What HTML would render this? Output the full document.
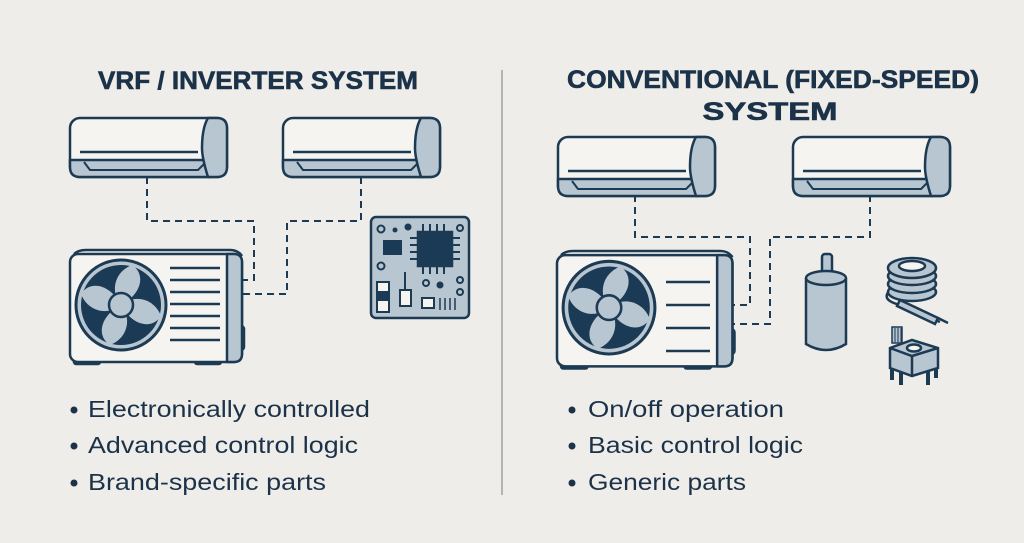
<!DOCTYPE html>
<html><head><meta charset="utf-8"><style>
html,body{margin:0;padding:0;background:#efede9;}
svg{display:block}
text{font-family:"Liberation Sans",sans-serif;fill:#1b3249}
</style></head><body>
<svg width="1024" height="543" viewBox="0 0 1024 543" xmlns="http://www.w3.org/2000/svg">
<defs>
<g id="indoor" stroke="#1d3a53" stroke-width="2.5" stroke-linejoin="round">
  <rect x="0" y="0" width="157" height="59" rx="10" fill="#f5f4f1"/>
  <path d="M0 42 H140 V59 H10 Q0 59 0 49 Z" fill="#b8c6d2"/>
  <path d="M14 44 L20 52 H128 L136 44" fill="#b8c6d2" stroke-width="2"/>
  <path d="M138 0 H147 Q157 0 157 10 V49 Q157 59 147 59 H138 Q132 40 132 30 Q132 10 138 0 Z" fill="#b8c6d2"/>
  <line x1="10" y1="34" x2="128" y2="34"/>
</g>
<path id="blade" d="M51 55 C40 42 44 22 62 15 C76 24 72 44 51 55 Z"/>
<g id="outdoor" stroke="#1d3a53" stroke-width="2.5" stroke-linejoin="round">
  <rect x="4" y="106" width="26" height="8" rx="2" fill="#b8c6d2"/>
  <rect x="125" y="106" width="26" height="8" rx="2" fill="#b8c6d2"/>
  <rect x="160" y="76" width="14" height="24" rx="3" fill="#b8c6d2"/>
  <rect x="0" y="4" width="172" height="108" rx="8" fill="#f5f4f1"/>
  <path d="M157 4 H164 Q172 4 172 12 V104 Q172 112 164 112 H157 Z" fill="#b8c6d2"/>
  <path d="M4 4 Q8 0 16 0 H160 Q168 0 172 6" fill="none"/>
  <circle cx="51" cy="55" r="45" fill="#b8c6d2" stroke-width="3"/>
  <circle cx="51" cy="55" r="40" fill="#1b3a55" stroke="none"/>
  <g fill="#b8c6d2" stroke="none">
    <use href="#blade"/>
    <use href="#blade" transform="rotate(90 51 55)"/>
    <use href="#blade" transform="rotate(180 51 55)"/>
    <use href="#blade" transform="rotate(270 51 55)"/>
  </g>
  <circle cx="51" cy="55" r="12" fill="#b8c6d2"/>
</g>
</defs>

<!-- titles -->
<text x="258" y="89" text-anchor="middle" font-size="25" font-weight="bold" textLength="320" lengthAdjust="spacingAndGlyphs" stroke="#1b3249" stroke-width="0.6">VRF / INVERTER SYSTEM</text>
<text x="773" y="88" text-anchor="middle" font-size="25" font-weight="bold" textLength="412" lengthAdjust="spacingAndGlyphs" stroke="#1b3249" stroke-width="0.6">CONVENTIONAL (FIXED-SPEED)</text>
<text x="770" y="120" text-anchor="middle" font-size="25" font-weight="bold" textLength="135" lengthAdjust="spacingAndGlyphs" stroke="#1b3249" stroke-width="0.6">SYSTEM</text>

<line x1="502" y1="70" x2="502" y2="495" stroke="#8a8f95" stroke-width="1.2"/>

<g fill="none" stroke="#1d3a53" stroke-width="2" stroke-dasharray="7,5">
  <path d="M147 177 V221 H254 V280 H243"/>
  <path d="M361 177 V221 H287 V294 H243"/>
  <path d="M635 195 V237 H750 V305 H733"/>
  <path d="M870 195 V237 H770 V324 H733"/>
</g>
<use href="#indoor" x="70" y="118"/>
<use href="#indoor" x="283" y="118"/>
<use href="#outdoor" x="70" y="250"/>

<!-- PCB -->
<g stroke="#1d3a53" stroke-width="2.5">
  <rect x="371" y="217" width="98" height="101" rx="5" fill="#b8c6d2"/>
  <rect x="418" y="232" width="34" height="34" fill="#1b3a55"/>
  <g stroke-width="2">
    <path d="M423 224V232M430 224V232M437 224V232M444 224V232M423 266V274M430 266V274M437 266V274M444 266V274M410 238H418M410 245H418M410 252H418M410 259H418M452 238H460M452 245H460M452 252H460M452 259H460"/>
  </g>
  <rect x="383" y="240" width="19" height="15" fill="#1b3a55" stroke="none"/>
  <circle cx="381" cy="229" r="3.5" fill="none" stroke-width="2"/>
  <circle cx="381" cy="266" r="3.5" fill="none" stroke-width="2"/>
  <circle cx="460" cy="228" r="3" fill="none" stroke-width="2"/>
  <circle cx="426" cy="283" r="3" fill="none" stroke-width="2"/>
  <circle cx="460" cy="280" r="3" fill="none" stroke-width="2"/>
  <circle cx="460" cy="292" r="3" fill="none" stroke-width="2"/>
  <circle cx="440" cy="285" r="3.5" fill="#1b3a55" stroke="none"/>
  <circle cx="408" cy="227" r="3.5" fill="#1b3a55" stroke="none"/>
  <circle cx="395" cy="230" r="2.5" fill="#1b3a55" stroke="none"/>
  <rect x="377" y="282" width="12" height="30" fill="#f5f4f1" stroke-width="2"/>
  <rect x="377" y="291" width="12" height="10" fill="#1b3a55" stroke="none"/>
  <rect x="400" y="290" width="11" height="16" fill="#f5f4f1" stroke-width="2"/>
  <line x1="405" y1="272" x2="405" y2="290" stroke-width="2"/>
  <rect x="422" y="298" width="12" height="10" fill="#f5f4f1" stroke-width="2"/>
  <path d="M440 298V310M445 298V310M450 298V310M455 298V310" stroke-width="1.5"/>
</g>

<use href="#indoor" x="558" y="137"/>
<use href="#indoor" x="793" y="137"/>
<g transform="translate(557 251) scale(1.02 1.03)">
  <use href="#outdoor"/>
</g>
<g fill="none" stroke="#1d3a53" stroke-width="2.5">
  <path d="M170 268H220M170 280H220M170 292H220M170 304H220M170 316H220M170 328H220M170 340H220"/>
  <path d="M666 282H710M666 305H710M666 328H710M666 351H710"/>
</g>

<!-- capacitor -->
<g stroke="#1d3a53" stroke-width="2.5" fill="#b8c6d2">
  <rect x="822" y="254" width="10" height="20" rx="3"/>
  <path d="M806 278 V344 Q826 356 846 344 V278"/>
  <ellipse cx="826" cy="278" rx="20" ry="7"/>
</g>
<!-- coil -->
<g stroke="#1d3a53" stroke-width="2.5" fill="#b8c6d2">
  <path d="M890 290 Q880 300 900 305 L940 322" fill="none"/>
  <ellipse cx="912" cy="292" rx="24" ry="9"/>
  <ellipse cx="912" cy="284" rx="24" ry="9"/>
  <ellipse cx="912" cy="276" rx="24" ry="9"/>
  <ellipse cx="912" cy="268" rx="24" ry="10"/>
  <ellipse cx="912" cy="266" rx="13" ry="5" fill="#f5f4f1"/>
  <path d="M900 300 L938 318 L935 324 L897 306 Z"/>
  <line x1="938" y1="318" x2="948" y2="323"/>
</g>
<!-- relay -->
<g stroke="#1d3a53" stroke-width="2.5" fill="#b8c6d2">
  <path d="M892 365V380M901 368V385M928 368V385M936 365V378" stroke-width="4"/>
  <path d="M890 348 L912 340 L938 348 V368 L912 376 L890 368 Z"/>
  <path d="M890 348 L912 356 L938 348 M912 356 V376" fill="none"/>
  <ellipse cx="914" cy="348" rx="7" ry="3.5" fill="#f5f4f1"/>
  <rect x="892" y="327" width="10" height="16" fill="#b8c6d2" stroke-width="1.5"/>
  <path d="M895 328V342M898 328V342M901 328V342" stroke-width="1"/>
</g>

<g font-size="23">
  <circle cx="74" cy="410" r="3.5" fill="#1b3249"/>
  <text x="88" y="417" textLength="282" lengthAdjust="spacingAndGlyphs">Electronically controlled</text>
  <circle cx="74" cy="446" r="3.5" fill="#1b3249"/>
  <text x="88" y="453" textLength="270" lengthAdjust="spacingAndGlyphs">Advanced control logic</text>
  <circle cx="74" cy="483" r="3.5" fill="#1b3249"/>
  <text x="88" y="490" textLength="238" lengthAdjust="spacingAndGlyphs">Brand-specific parts</text>

  <circle cx="572" cy="410" r="3.5" fill="#1b3249"/>
  <text x="588" y="417" textLength="196" lengthAdjust="spacingAndGlyphs">On/off operation</text>
  <circle cx="572" cy="446" r="3.5" fill="#1b3249"/>
  <text x="588" y="453" textLength="215" lengthAdjust="spacingAndGlyphs">Basic control logic</text>
  <circle cx="572" cy="483" r="3.5" fill="#1b3249"/>
  <text x="588" y="490" textLength="158" lengthAdjust="spacingAndGlyphs">Generic parts</text>
</g>
</svg>
</body></html>
